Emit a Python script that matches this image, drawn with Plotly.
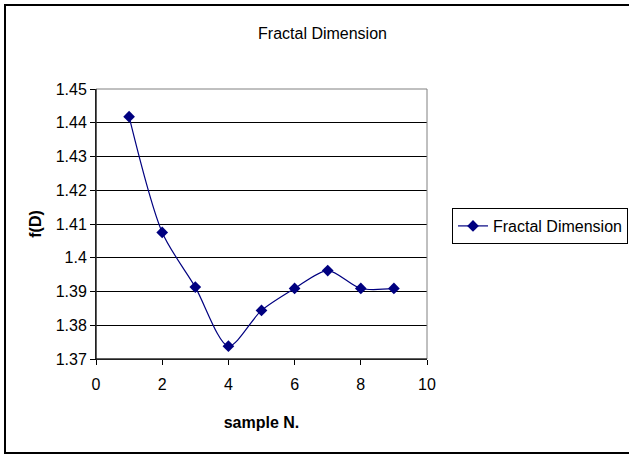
import plotly.graph_objects as go

samples = [1, 2, 3, 4, 5, 6, 7, 8, 9]
fractal_dim = [1.4418, 1.4075, 1.3913, 1.3738, 1.3844, 1.3909, 1.3962, 1.3909, 1.3909]
x_ticks = [0, 2, 4, 6, 8, 10]
y_ticks = [1.37, 1.38, 1.39, 1.40, 1.41, 1.42, 1.43, 1.44, 1.45]
y_tick_text = ["1.37", "1.38", "1.39", "1.4", "1.41", "1.42", "1.43", "1.44", "1.45"]

W, H = 629, 455
L, R, T, B = 96, 427, 89, 359

def px(x):
    return (x - L) / (R - L)

def py(y):
    return (B - y) / (B - T)

navy = "#000080"
font = "Liberation Sans, Arial, sans-serif"

fig = go.Figure()
fig.add_trace(go.Scatter(
    x=samples, y=fractal_dim, mode="lines+markers", name="Fractal Dimension",
    line=dict(color=navy, width=1.2, shape="spline", smoothing=0.8),
    marker=dict(symbol="diamond", size=9, color=navy),
))

fig.update_layout(
    width=W, height=H,
    margin=dict(l=L, r=W - R, t=T, b=H - B, autoexpand=False),
    paper_bgcolor="white", plot_bgcolor="white",
    font=dict(family=font, color="black"),
    title=dict(text="Fractal Dimension", x=322.5 / W, xanchor="center", y=1 - 33 / H, yanchor="middle",
               font=dict(size=16, color="black", family=font)),
    showlegend=True,
    legend=dict(x=px(452), xanchor="left", y=py(208), yanchor="top",
                bordercolor="black", borderwidth=1, bgcolor="white",
                font=dict(size=16, family=font), itemwidth=30),
    xaxis=dict(range=[0, 10], tickvals=x_ticks, ticktext=[str(v) for v in x_ticks],
               showgrid=False, zeroline=False, showline=True, linecolor="black", linewidth=1,
               ticks="outside", ticklen=5, tickcolor="black", ticklabelstandoff=6,
               tickfont=dict(size=16, family=font),
               title=dict(text="<b>sample N.</b>", font=dict(size=16, family=font), standoff=24)),
    yaxis=dict(range=[1.37, 1.45], tickvals=y_ticks, ticktext=y_tick_text,
               showgrid=True, gridcolor="black", gridwidth=1, zeroline=False,
               showline=True, linecolor="black", linewidth=1,
               ticks="outside", ticklen=5, tickcolor="black",
               tickfont=dict(size=16, family=font),
               title=dict(text="<b>f(D)</b>", font=dict(size=16, family=font), standoff=10)),
    shapes=[
        dict(type="rect", xref="paper", yref="paper", x0=0, x1=1, y0=0, y1=1,
             line=dict(color="#808080", width=1), layer="above"),
        dict(type="line", xref="paper", yref="paper", x0=0, x1=0, y0=0, y1=1,
             line=dict(color="black", width=1), layer="above"),
        dict(type="line", xref="paper", yref="paper", x0=0, x1=1, y0=0, y1=0,
             line=dict(color="black", width=1), layer="above"),
        dict(type="rect", xref="paper", yref="paper", x0=px(5), x1=px(632), y0=py(453), y1=py(5),
             line=dict(color="black", width=2), layer="above"),
    ],
)

fig.write_html("out.html")
